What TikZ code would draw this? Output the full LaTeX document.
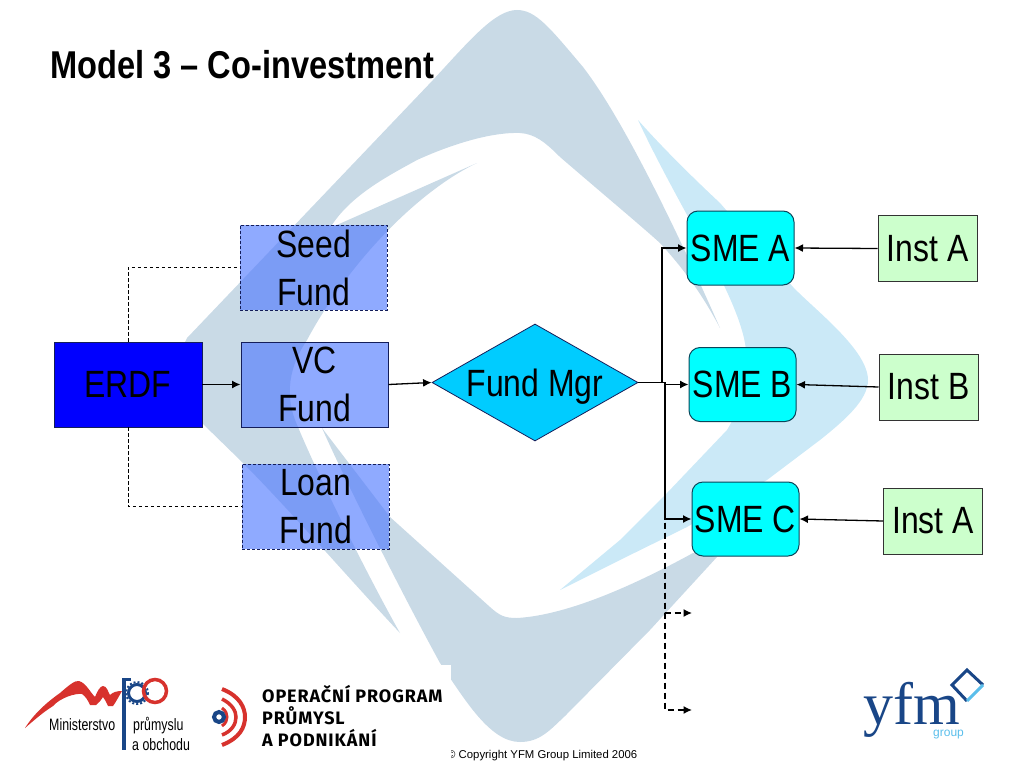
\documentclass[tikz,border=0pt]{standalone}
\usepackage{fontspec}
\setmainfont{Liberation Sans}[FakeStretch=0.84]
\newfontfamily\plainfont{Liberation Sans}
\newfontfamily\narrowfont{Liberation Sans}[FakeStretch=0.75]
\newfontfamily\opfont{Fira Sans}[LetterSpace=5]
\newfontfamily\yfmfont{Liberation Serif}
\usetikzlibrary{arrows,shapes}
\usetikzlibrary{arrows.meta}
\definecolor{swooshdark}{RGB}{201, 218, 230}
\definecolor{swooshlight}{RGB}{203, 233, 247}
\definecolor{fundblue}{RGB}{78, 120, 255}
\definecolor{edgeblue}{RGB}{20, 30, 90}
\definecolor{mgrblue}{RGB}{0, 204, 255}
\definecolor{smecyan}{RGB}{0, 255, 255}
\definecolor{smeedge}{RGB}{10, 70, 90}
\definecolor{instgreen}{RGB}{204, 255, 204}
\definecolor{logored}{RGB}{215, 50, 45}
\definecolor{logoblue}{RGB}{25, 70, 135}
\definecolor{logosky}{RGB}{90, 190, 235}
\tikzstyle{boxfont}=[font=\fontsize{38}{48}\selectfont, align=center, inner sep=0pt]
\tikzstyle{fundbox}=[rectangle, boxfont, minimum width=147pt, minimum height=85pt, fill=fundblue, fill opacity=0.63, text opacity=1]
\tikzstyle{erdfbox}=[rectangle, draw=edgeblue, line width=0.8pt, boxfont, minimum width=148pt, minimum height=85pt, fill=blue]
\tikzstyle{mgrbox}=[diamond, draw=edgeblue, line width=0.8pt, boxfont, text height=27pt, text depth=0pt, aspect=1.76, minimum width=206pt, minimum height=117pt, fill=mgrblue]
\tikzstyle{smebox}=[rectangle, rounded corners=11pt, draw=smeedge, line width=1pt, boxfont, minimum width=107pt, minimum height=74pt, fill=smecyan]
\tikzstyle{instbox}=[rectangle, draw=black!80, line width=1pt, boxfont, minimum width=99pt, minimum height=66pt, fill=instgreen]
\tikzstyle{flow}=[draw, line width=1.3pt, -{Latex[length=8.5pt, width=8pt]}]
\tikzstyle{nextflow}=[flow, dash pattern=on 6pt off 4pt]
\tikzstyle{link}=[draw, line width=0.8pt, dash pattern=on 3.5pt off 2.5pt]
\tikzstyle{logotext}=[inner sep=0pt, anchor=base west]

\begin{document}
\begin{tikzpicture}[x=1pt, y=-1pt]
      %
      \path[use as bounding box] (0,0) rectangle (1024,768);
      %
      % Background swooshes
      %
      \fill[swooshlight] (638,120) .. controls (660,145) and (690,175) .. (720,203) -- (793,287)
        .. controls (815,310) and (868,350) .. (868,380) .. controls (868,400) and (845,420) .. (820,440)
        -- (767,480) -- (687,527) -- (620,560) -- (560,590) -- (620,540) -- (667,493) -- (727,430)
        .. controls (745,400) and (750,375) .. (745,343) .. controls (735,290) and (680,210) .. cycle;
      \fill[swooshdark] (517,10) .. controls (536,10) and (550,28) .. (583,67)
        .. controls (620,115) and (670,215) .. (720,328) .. controls (700,290) and (680,265) .. (660,243)
        .. controls (640,225) and (610,200) .. (560,157) .. controls (545,142) and (535,134) .. (520,133)
        .. controls (490,132) and (450,145) .. (417,160) .. controls (390,175) and (350,195) .. (330,228)
        -- (477,163) .. controls (420,190) and (350,260) .. (307,340)
        .. controls (290,365) and (283,395) .. (298,427) .. controls (320,480) and (370,580) .. (400,633)
        .. controls (350,580) and (290,510) .. (242,462) -- (202,423)
        .. controls (180,395) and (175,360) .. (187,338) -- (433,80)
        .. controls (470,40) and (495,10) .. cycle;
      \fill[swooshdark] (322,428) .. controls (345,480) and (400,590) .. (440,663)
        .. controls (465,700) and (490,742) .. (520,742) .. controls (540,742) and (550,730) .. (565,716)
        -- (650,630) -- (717,557) -- (693,553) .. controls (640,582) and (570,615) .. (517,618)
        .. controls (505,618) and (500,616) .. (490,607) -- (390,517) -- cycle;
      %
      % Footer, its left end lies under the logo strip
      %
      \node[logotext] (copyright) at (447,758) {\plainfont\fontsize{11.35}{14}\selectfont © Copyright YFM Group Limited 2006};
      \fill[white] (0,665) rectangle (451,768);
      %
      % Title
      %
      \node[logotext] (title) at (50,78) {\fontsize{38.8}{44}\selectfont\bfseries Model 3 – Co-investment};
      %
      % ERDF --> VC Fund, Seed Fund, Loan Fund
      %
      \path node[erdfbox] (erdf) at (128,384.5) {ERDF};
      \path node[fundbox, draw=edgeblue, line width=1pt, right of=erdf, node distance=186.5pt] (vc) {VC \\ Fund};
      \path node[fundbox, draw=edgeblue, line width=1pt, dash pattern=on 3pt off 2pt, above of=vc, node distance=117pt, xshift=-1pt] (seed) {Seed \\ Fund};
      \path node[fundbox, draw=edgeblue, line width=1pt, dash pattern=on 3pt off 2pt, below of=vc, node distance=122pt, xshift=1pt] (loan) {Loan \\ Fund};
      \path [flow] (erdf.east) -- (vc.west);
      \path [link] (erdf.north) |- (seed.west);
      \path [link] (erdf.south) |- (loan.west);
      %
      % VC Fund --> Fund Mgr
      %
      \path node[mgrbox, right of=vc, node distance=220.5pt, yshift=2pt] (mgr) {Fund Mgr};
      \path [flow] (vc.east) -- (mgr.west);
      %
      % SMEs and the institutions beside them
      %
      \path node[smebox, right of=mgr, node distance=207.5pt, yshift=-2pt] (smeB) {SME B};
      \path node[smebox, above of=smeB, node distance=136.5pt, xshift=-2pt] (smeA) {SME A};
      \path node[smebox, below of=smeB, node distance=134.5pt, xshift=3pt] (smeC) {SME C};
      \path node[instbox, right of=smeA, node distance=187pt, yshift=-0.5pt] (instA) {Inst A};
      \path node[instbox, right of=smeB, node distance=186pt, yshift=-2.5pt] (instB) {Inst B};
      \path node[instbox, right of=smeC, node distance=187.5pt, yshift=-2pt] (instC) {Inst A};
      \path [flow] (instA.west) -- (smeA.east);
      \path [flow] (instB.west) -- (smeB.east);
      \path [flow] (instC.west) -- (smeC.east);
      %
      % Fund Mgr --> SMEs
      %
      \coordinate (splitA) at (662,382.5);
      \coordinate (trunk) at (665,382.5);
      \coordinate (nextA) at (692,613);
      \coordinate (nextB) at (692,710);
      \path [nextflow] (trunk) |- (nextA);
      \path [nextflow] (trunk) |- (nextB);
      \path [flow] (mgr.east) -- (splitA) |- (smeA.west);
      \path [flow] (mgr.east) -- (trunk) |- (smeB.west);
      \path [flow] (trunk) |- (smeC.west);
      %
      % Ministry logo
      %
      \fill[logored] (25,728) .. controls (35,712) and (50,700) .. (60,693) .. controls (68,686) and (75,680) .. (79,681)
        .. controls (86,683) and (90,692) .. (95,697) .. controls (97,692) and (100,686) .. (103,686)
        .. controls (107,686) and (108,692) .. (110,695) .. controls (113,692) and (117,691) .. (122,691)
        .. controls (119,696) and (116,702) .. (113,706) -- (108,706)
        .. controls (106,702) and (105,699) .. (103,697) .. controls (101,700) and (99,703) .. (96,705)
        -- (90,705) .. controls (88,700) and (85,696) .. (82,694)
        .. controls (75,693) and (60,698) .. (53,706) .. controls (42,713) and (32,722) .. cycle;
      \fill[logoblue] (122,678) rectangle (126,750);
      \fill[logoblue] (122,678) rectangle (131,681);
      \draw[logoblue, line width=3pt] (137,693) circle (8.5);
      \draw[logoblue, line width=2pt, dash pattern=on 2pt off 2pt] (137,693) circle (11);
      \draw[logored, line width=3.5pt] (155,691) ellipse (11.5 and 11.5);
      \node[logotext] (ministry) at (49,730) {\narrowfont\fontsize{16.5}{18}\selectfont Ministerstvo};
      \node[logotext] (trade) at (133,730) {\narrowfont\fontsize{16.5}{18}\selectfont průmyslu};
      \node[logotext] (business) at (132,750) {\narrowfont\fontsize{16.5}{18}\selectfont a obchodu};
      %
      % Programme logo
      %
      \draw[logored, line width=4pt] (222,689) .. controls (240,696) and (245,708) .. (245,717) .. controls (245,727) and (240,738) .. (222,745);
      \draw[logored, line width=3.5pt] (222,699) .. controls (232,704) and (236,711) .. (236,717) .. controls (236,724) and (232,731) .. (222,735);
      \draw[logored, line width=3pt] (222,708) .. controls (226,711) and (227,714) .. (227,717) .. controls (227,720) and (226,723) .. (222,726);
      \draw[logoblue, line width=4pt] (219,717) circle (5);
      \node[logotext] (opA) at (262,702) {\opfont\bfseries\fontsize{18}{20}\selectfont OPERAČNÍ PROGRAM};
      \node[logotext] (opB) at (262,724) {\opfont\bfseries\fontsize{18}{20}\selectfont PRŮMYSL};
      \node[logotext] (opC) at (262,746) {\opfont\bfseries\fontsize{18}{20}\selectfont A PODNIKÁNÍ};
      %
      % YFM logo
      %
      \node[logotext] (yfm) at (863,724) {\yfmfont\fontsize{60}{60}\selectfont\textcolor{logoblue}{\smash{yfm}}};
      \node[logotext] (group) at (933,736) {\plainfont\fontsize{12}{14}\selectfont\textcolor{logosky}{group}};
      \fill[white] (967,670) -- (983,685) -- (967,701) -- (952,685) -- cycle;
      \draw[logoblue, line width=3pt] (983,685) -- (967,670) -- (952,685) -- (967,701);
      \draw[logosky, line width=3pt] (967,701) -- (983,685);
      %
    \end{tikzpicture}
\end{document}
